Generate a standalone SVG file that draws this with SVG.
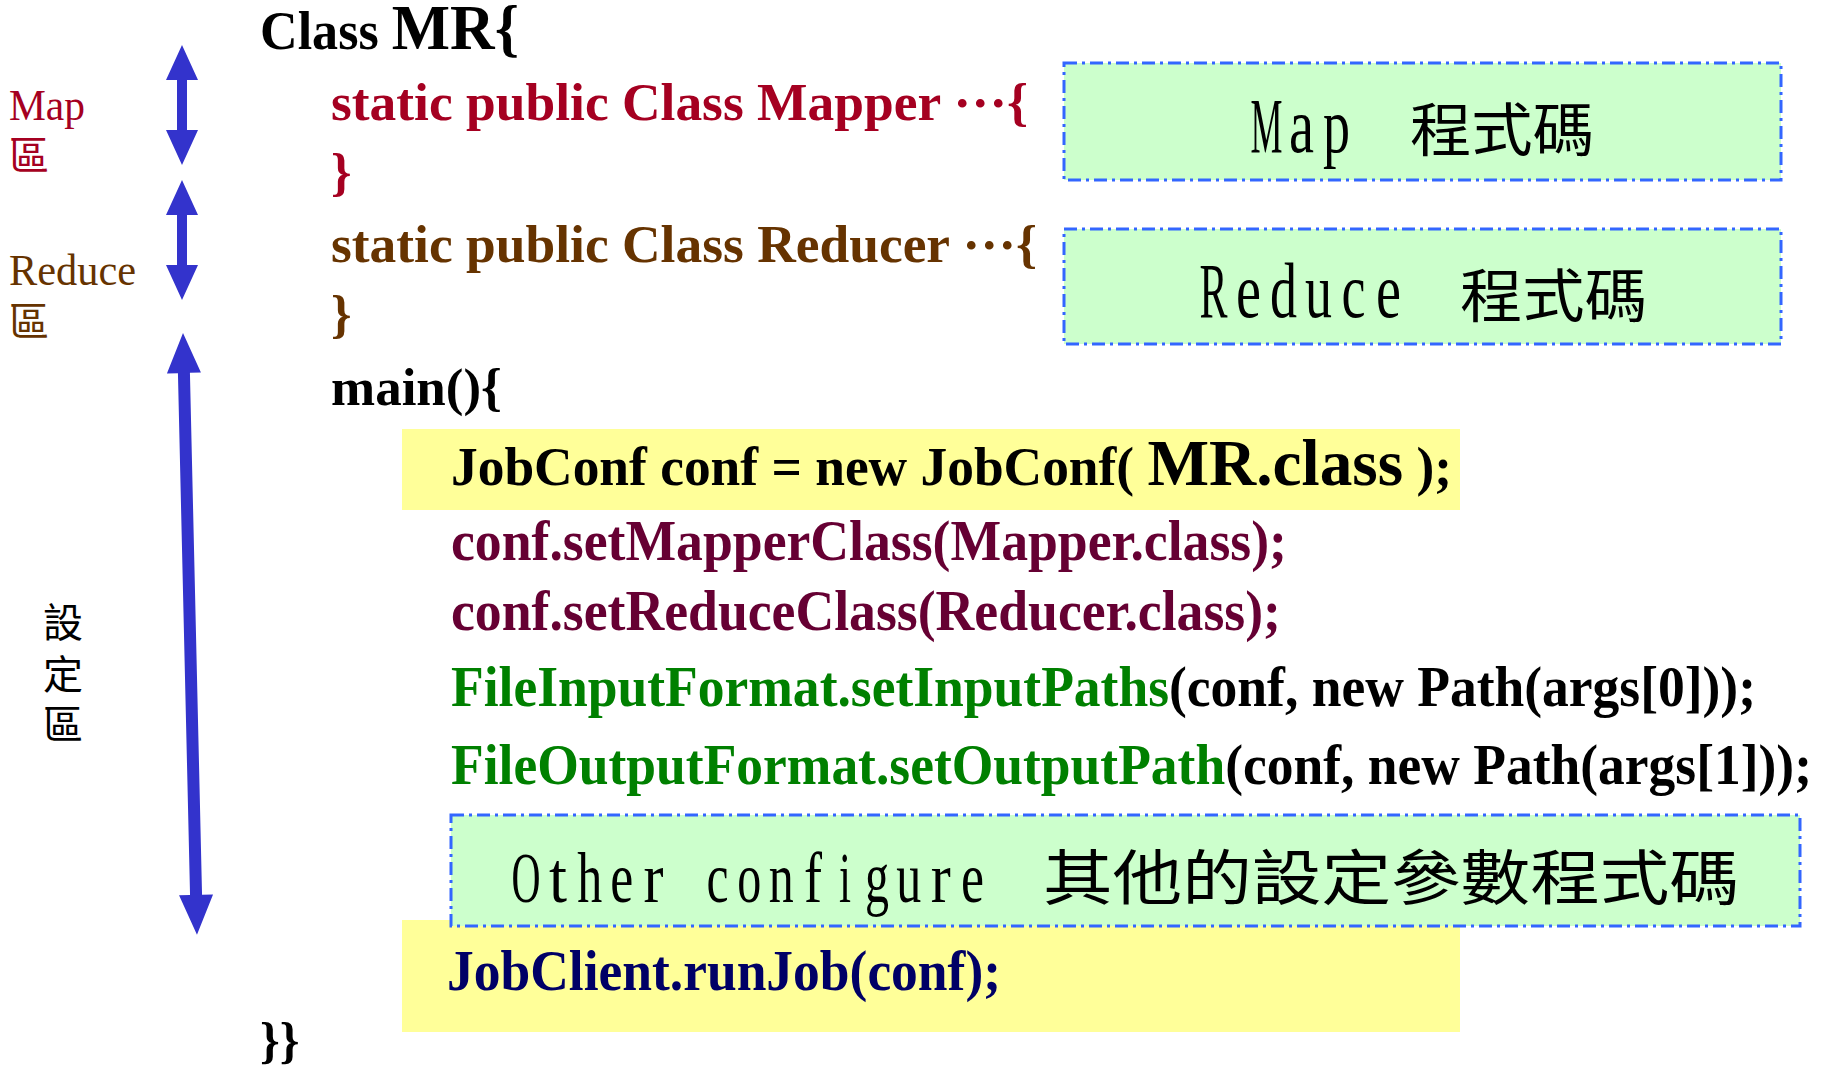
<svg xmlns="http://www.w3.org/2000/svg" width="1821" height="1072" viewBox="0 0 1821 1072">
  <style>
    .code { font-family: "Liberation Serif", "Times New Roman", serif; font-weight: bold; }
    .lbl { font-family: "Liberation Serif", "Times New Roman", serif; }
    .cjk { font-family: "Noto Sans CJK TC", "Noto Sans CJK SC", sans-serif; }
    .cell { font-family: "Liberation Serif", "Times New Roman", serif; fill: #000000; }
    .big { font-size: 78px; }
    .mid { font-size: 72px; }
    .red { fill: #A50021; }
    .brown { fill: #663300; }
    .plum { fill: #660033; }
    .green { fill: #008000; }
    .navy { fill: #000066; }
    .ink { fill: #000000; }
    .hl { fill: #FFFF99; }
    .note { fill: #CCFFCC; stroke: #3366FF; stroke-width: 3; stroke-dasharray: 13 5 3 5; }
    .arrow { fill: #3333CC; }
  </style>

  <!-- highlighted statements -->
  <g id="hl-jobconf"><rect class="hl" x="402" y="429" width="1058" height="81"/></g>
  <g id="hl-runjob"><rect class="hl" x="402" y="920" width="1058" height="112"/></g>

  <!-- region markers on the left -->
  <g id="connectors">
    <polygon class="arrow" points="182,45 198,80 187,80 187,130 198,130 182,165 166,130 177,130 177,80 166,80"/>
    <polygon class="arrow" points="182,180 198,215 187,215 187,265 198,265 182,300 166,265 177,265 177,215 166,215"/>
    <polygon class="arrow" transform="translate(183,333) rotate(-1.33)" points="0,0 17,40 6,40 6,562 17,562 0,602 -17,562 -6,562 -6,40 -17,40"/>
  </g>

  <g id="label-map">
    <text class="lbl red" x="9" y="120" font-size="44" textLength="76" lengthAdjust="spacingAndGlyphs">Map</text>
    <text class="cjk red" x="9" y="170" font-size="40">區</text>
  </g>
  <g id="label-reduce">
    <text class="lbl brown" x="9" y="285" font-size="44" textLength="127" lengthAdjust="spacingAndGlyphs">Reduce</text>
    <text class="cjk brown" x="9" y="336" font-size="40">區</text>
  </g>
  <g id="label-setup">
    <text class="cjk ink" x="43" y="637" font-size="40">設</text>
    <text class="cjk ink" x="43" y="689" font-size="40">定</text>
    <text class="cjk ink" x="43" y="739" font-size="40">區</text>
  </g>

  <!-- program text -->
  <g id="class-head">
    <text class="code ink" x="260" y="49" textLength="259" lengthAdjust="spacingAndGlyphs"><tspan font-size="54">Class </tspan><tspan font-size="64">MR{</tspan></text>
  </g>
  <g id="mapper">
    <text class="code red" x="331" y="120" font-size="52" textLength="697" lengthAdjust="spacingAndGlyphs">static public Class Mapper <tspan dy="-13">…</tspan><tspan dy="13">{</tspan></text>
    <text class="code red" x="331" y="190" font-size="52">}</text>
  </g>
  <g id="reducer">
    <text class="code brown" x="331" y="262" font-size="52" textLength="706" lengthAdjust="spacingAndGlyphs">static public Class Reducer <tspan dy="-13">…</tspan><tspan dy="13">{</tspan></text>
    <text class="code brown" x="331" y="332" font-size="52">}</text>
  </g>
  <g id="main">
    <text class="code ink" x="331" y="405" font-size="52" textLength="171" lengthAdjust="spacingAndGlyphs">main(){</text>
    <text class="code ink" x="451" y="485" textLength="1001" lengthAdjust="spacingAndGlyphs"><tspan font-size="54">JobConf conf = new JobConf( </tspan><tspan font-size="66">MR.class</tspan><tspan font-size="54"> );</tspan></text>
    <text class="code plum" x="451" y="560" font-size="56" textLength="836" lengthAdjust="spacingAndGlyphs">conf.setMapperClass(Mapper.class);</text>
    <text class="code plum" x="451" y="630" font-size="56" textLength="830" lengthAdjust="spacingAndGlyphs">conf.setReduceClass(Reducer.class);</text>
    <text class="code ink" x="451" y="706" font-size="56" textLength="1305" lengthAdjust="spacingAndGlyphs"><tspan class="green">FileInputFormat.setInputPaths</tspan>(conf, new Path(args[0]));</text>
    <text class="code ink" x="451" y="784" font-size="56" textLength="1361" lengthAdjust="spacingAndGlyphs"><tspan class="green">FileOutputFormat.setOutputPath</tspan>(conf, new Path(args[1]));</text>
    <text class="code navy" x="447" y="990" font-size="56" textLength="554" lengthAdjust="spacingAndGlyphs">JobClient.runJob(conf);</text>
  </g>
  <g id="class-tail">
    <text class="code ink" x="260" y="1057" font-size="50">}}</text>
  </g>

  <!-- explanatory notes: Latin letters set one per fixed-width cell -->
  <g id="note-map">
    <rect class="note" x="1064" y="63" width="717" height="117"/>
    <text class="cell big" x="1250.5" y="152" textLength="32" lengthAdjust="spacingAndGlyphs">M</text>
    <text class="cell big" x="1289" y="152" textLength="25" lengthAdjust="spacingAndGlyphs">a</text>
    <text class="cell big" x="1323" y="152" textLength="27" lengthAdjust="spacingAndGlyphs">p</text>
    <text class="cjk ink" x="1410" y="151" font-size="58" textLength="184" lengthAdjust="spacingAndGlyphs">程式碼</text>
  </g>
  <g id="note-reduce">
    <rect class="note" x="1064" y="229" width="717" height="115"/>
    <text class="cell big" x="1199.5" y="317" textLength="28" lengthAdjust="spacingAndGlyphs">R</text>
    <text class="cell big" x="1236" y="317" textLength="25" lengthAdjust="spacingAndGlyphs">e</text>
    <text class="cell big" x="1270" y="317" textLength="27" lengthAdjust="spacingAndGlyphs">d</text>
    <text class="cell big" x="1305" y="317" textLength="27" lengthAdjust="spacingAndGlyphs">u</text>
    <text class="cell big" x="1341.5" y="317" textLength="24" lengthAdjust="spacingAndGlyphs">c</text>
    <text class="cell big" x="1376" y="317" textLength="25" lengthAdjust="spacingAndGlyphs">e</text>
    <text class="cjk ink" x="1460" y="317" font-size="58" textLength="187" lengthAdjust="spacingAndGlyphs">程式碼</text>
  </g>
  <g id="note-other">
    <rect class="note" x="451" y="815" width="1349" height="111"/>
    <text class="cell mid" x="511.5" y="902" textLength="29" lengthAdjust="spacingAndGlyphs">O</text>
    <text class="cell mid" x="548.9" y="902" textLength="18" lengthAdjust="spacingAndGlyphs">t</text>
    <text class="cell mid" x="577.3" y="902" textLength="25" lengthAdjust="spacingAndGlyphs">h</text>
    <text class="cell mid" x="610.2" y="902" textLength="23" lengthAdjust="spacingAndGlyphs">e</text>
    <text class="cell mid" x="643.6" y="902" textLength="20" lengthAdjust="spacingAndGlyphs">r</text>
    <text class="cell mid" x="706.4" y="902" textLength="22" lengthAdjust="spacingAndGlyphs">c</text>
    <text class="cell mid" x="737.3" y="902" textLength="24" lengthAdjust="spacingAndGlyphs">o</text>
    <text class="cell mid" x="768.7" y="902" textLength="25" lengthAdjust="spacingAndGlyphs">n</text>
    <text class="cell mid" x="804.1" y="902" textLength="18" lengthAdjust="spacingAndGlyphs">f</text>
    <text class="cell mid" x="839" y="902" textLength="12" lengthAdjust="spacingAndGlyphs">i</text>
    <text class="cell mid" x="864.9" y="902" textLength="24" lengthAdjust="spacingAndGlyphs">g</text>
    <text class="cell mid" x="896.3" y="902" textLength="25" lengthAdjust="spacingAndGlyphs">u</text>
    <text class="cell mid" x="930.7" y="902" textLength="20" lengthAdjust="spacingAndGlyphs">r</text>
    <text class="cell mid" x="961.1" y="902" textLength="23" lengthAdjust="spacingAndGlyphs">e</text>
    <text class="cjk ink" x="1043" y="900" font-size="60" textLength="696" lengthAdjust="spacingAndGlyphs">其他的設定參數程式碼</text>
  </g>
</svg>
